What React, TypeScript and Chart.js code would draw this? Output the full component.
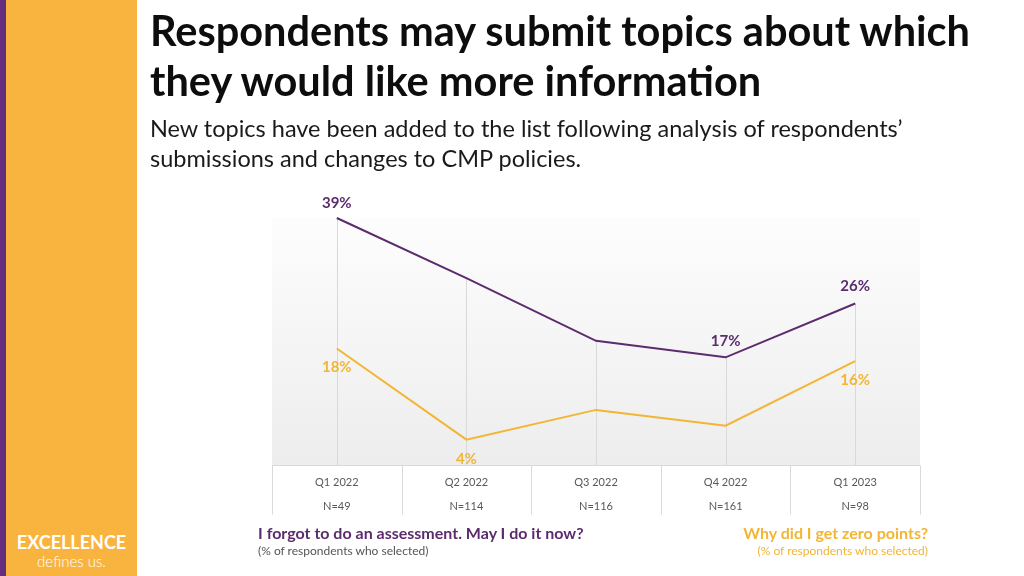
import React, { useEffect, useRef } from "react";
import { Chart, registerables } from "chart.js";

Chart.register(...registerables);

const quarters = ["Q1 2022", "Q2 2022", "Q3 2022", "Q4 2022", "Q1 2023"];
const sampleSizes = ["N=49", "N=114", "N=116", "N=161", "N=98"];
const forgotAssessment = [39, 29.5, 19.6, 17, 25.5];
const zeroPoints = [18.4, 4, 8.7, 6.2, 16.4];
const forgotLabels = ["39%", null, null, "17%", "26%"];
const zeroLabels = ["18%", "4%", null, null, "16%"];

const PURPLE = "#5C2B6E";
const ORANGE = "#F2B534";
const FONT = "Lato, 'Open Sans', sans-serif";

export default function App() {
  const ref = useRef<HTMLCanvasElement | null>(null);

  useEffect(() => {
    if (!ref.current) return;
    const bgPlugin = {
      id: "bgPlugin",
      beforeDatasetsDraw(chart: any) {
        const { ctx, chartArea } = chart;
        const { left, right, top, bottom } = chartArea;
        ctx.save();
        const g = ctx.createLinearGradient(0, top, 0, bottom);
        g.addColorStop(0, "#fdfdfd");
        g.addColorStop(1, "#ededed");
        ctx.fillStyle = g;
        ctx.fillRect(left, top, right - left, bottom - top);
        const meta = chart.getDatasetMeta(0);
        ctx.strokeStyle = "#d9d9d9";
        ctx.lineWidth = 1;
        meta.data.forEach((pt: any) => {
          const x = Math.round(pt.x) + 0.5;
          ctx.beginPath();
          ctx.moveTo(x, pt.y);
          ctx.lineTo(x, bottom);
          ctx.stroke();
        });
        ctx.restore();
      },
      afterDraw(chart: any) {
        const { ctx, chartArea, scales } = chart;
        const xs = scales.x;
        const top = Math.round(chartArea.bottom) + 0.5;
        const h = 49;
        const n = quarters.length;
        const colW = (chartArea.right - chartArea.left) / n;
        ctx.save();
        ctx.strokeStyle = "#d9d9d9";
        ctx.lineWidth = 1;
        ctx.fillStyle = "#ffffff";
        ctx.fillRect(chartArea.left, top, chartArea.right - chartArea.left, h);
        ctx.beginPath();
        ctx.moveTo(chartArea.left, top);
        ctx.lineTo(chartArea.right, top);
        for (let i = 0; i <= n; i++) {
          const x = Math.round(chartArea.left + i * colW) + 0.5;
          ctx.moveTo(x, top);
          ctx.lineTo(x, top + h);
        }
        ctx.stroke();
        ctx.fillStyle = "#595959";
        ctx.font = `11px ${FONT}`;
        ctx.textAlign = "center";
        ctx.textBaseline = "middle";
        quarters.forEach((q, i) => {
          const x = xs.getPixelForValue(i);
          ctx.fillText(q, x, top + 17);
          ctx.fillText(sampleSizes[i], x, top + 41);
        });
        ctx.font = `bold 15px ${FONT}`;
        const m0 = chart.getDatasetMeta(0);
        const m1 = chart.getDatasetMeta(1);
        const purpleOffsets = [-15, 0, 0, -16, -17];
        const orangeOffsets = [19, 19, 0, 0, 19];
        ctx.fillStyle = PURPLE;
        m0.data.forEach((pt: any, i: number) => {
          const t = forgotLabels[i];
          if (t) ctx.fillText(t, pt.x, pt.y + purpleOffsets[i]);
        });
        ctx.fillStyle = ORANGE;
        m1.data.forEach((pt: any, i: number) => {
          const t = zeroLabels[i];
          if (t) ctx.fillText(t, pt.x, pt.y + orangeOffsets[i]);
        });
        ctx.restore();
      },
    };

    const chart = new Chart(ref.current, {
      type: "line",
      data: {
        labels: quarters,
        datasets: [
          {
            label: "I forgot to do an assessment. May I do it now?",
            data: forgotAssessment,
            borderColor: PURPLE,
            borderWidth: 2,
            pointRadius: 0,
            tension: 0,
            clip: false as any,
          },
          {
            label: "Why did I get zero points?",
            data: zeroPoints,
            borderColor: ORANGE,
            borderWidth: 2,
            pointRadius: 0,
            tension: 0,
            clip: false as any,
          },
        ],
      },
      options: {
        animation: false,
        responsive: false,
        layout: { padding: { left: 272, right: 104, top: 218, bottom: 111 } },
        plugins: { legend: { display: false }, tooltip: { enabled: false } },
        scales: {
          x: { display: false, offset: true },
          y: { display: false, min: 0, max: 39 },
        },
      },
      plugins: [bgPlugin],
    });
    return () => chart.destroy();
  }, []);

  return (
    <div style={{ position: "absolute", left: 0, top: 0, width: 1024, height: 576, background: "#fff", overflow: "hidden", fontFamily: FONT }}>
      <div style={{ position: "absolute", left: 0, top: 0, width: 6, height: 576, background: "#662D7E" }} />
      <div style={{ position: "absolute", left: 6, top: 0, width: 131, height: 576, background: "#F9B43F" }} />
      <div style={{ position: "absolute", left: 6, top: 530, width: 131, textAlign: "center", color: "#fff", fontWeight: 700, fontSize: 18, lineHeight: "24px" }}>EXCELLENCE</div>
      <div style={{ position: "absolute", left: 6, top: 551, width: 131, textAlign: "center", color: "#fff", fontWeight: 300, fontSize: 15, lineHeight: "20px" }}>defines us.</div>
      <canvas ref={ref} width={1024} height={576} style={{ position: "absolute", left: 0, top: 0, width: 1024, height: 576 }} />
      <div style={{ position: "absolute", left: 150, top: 5, color: "#0d0d0d", fontWeight: 700, fontSize: 41.5, lineHeight: "50px", whiteSpace: "nowrap" }}>
        Respondents may submit topics about which<br />they would like more information
      </div>
      <div style={{ position: "absolute", left: 150, top: 113, color: "#1a1a1a", fontSize: 23.5, lineHeight: "30px", whiteSpace: "nowrap" }}>
        New topics have been added to the list following analysis of respondents’<br />submissions and changes to CMP policies.
      </div>
      <div style={{ position: "absolute", left: 258, top: 523, color: PURPLE, fontWeight: 700, fontSize: 16, lineHeight: "20px", whiteSpace: "nowrap" }}>
        I forgot to do an assessment. May I do it now?
      </div>
      <div style={{ position: "absolute", left: 258, top: 544, color: "#555", fontSize: 12, lineHeight: "14px", whiteSpace: "nowrap" }}>
        (% of respondents who selected)
      </div>
      <div style={{ position: "absolute", right: 1024 - 928, top: 523, color: ORANGE, fontWeight: 700, fontSize: 16, lineHeight: "20px", whiteSpace: "nowrap", textAlign: "right" }}>
        Why did I get zero points?
      </div>
      <div style={{ position: "absolute", right: 1024 - 928, top: 544, color: ORANGE, fontSize: 12, lineHeight: "14px", whiteSpace: "nowrap", textAlign: "right" }}>
        (% of respondents who selected)
      </div>
    </div>
  );
}
